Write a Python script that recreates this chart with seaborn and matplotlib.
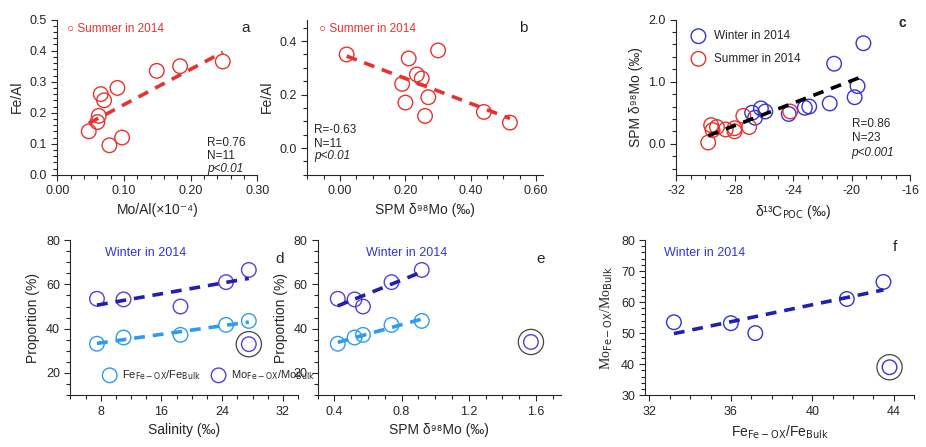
import numpy as np
import matplotlib
matplotlib.use("Agg")
import matplotlib.pyplot as plt
import seaborn as sns

# panel a / b: summer 2014
mo_al = [0.047, 0.060, 0.062, 0.065, 0.070, 0.078, 0.090, 0.097, 0.149, 0.184, 0.248]
fe_al_a = [0.14, 0.17, 0.19, 0.26, 0.24, 0.095, 0.28, 0.12, 0.335, 0.35, 0.365]
spm_b = [0.02, 0.19, 0.20, 0.21, 0.235, 0.25, 0.26, 0.27, 0.30, 0.44, 0.52]
fe_al_b = [0.35, 0.24, 0.17, 0.335, 0.275, 0.26, 0.12, 0.19, 0.365, 0.135, 0.095]

# panel c
c13_sum = [-29.8, -29.6, -29.5, -29.2, -28.6, -28.0, -28.0, -27.4, -27.0, -24.2]
mo_sum = [0.02, 0.30, 0.22, 0.27, 0.23, 0.20, 0.25, 0.45, 0.27, 0.52]
c13_win = [-26.8, -26.6, -26.2, -25.9, -24.3, -23.2, -22.9, -21.5, -21.2, -19.8, -19.6, -19.2]
mo_win = [0.50, 0.42, 0.57, 0.52, 0.48, 0.58, 0.60, 0.65, 1.29, 0.75, 0.93, 1.62]

# panels d-f: winter 2014
salinity = [7.5, 11.0, 18.5, 24.5, 27.5]
spm_win = [0.42, 0.52, 0.57, 0.74, 0.92]
fe_ox = [33.2, 36.0, 37.2, 41.7, 43.5]
mo_ox = [53.5, 53.2, 50.0, 61.0, 66.5]
outlier_sal, outlier_spm, outlier_fe = 27.5, 1.57, 43.8
outlier_mo_d, outlier_mo_e, outlier_mo_f = 33.0, 34.0, 39.0

sns.set_style("ticks")
plt.rcParams["font.family"] = ["Liberation Sans", "DejaVu Sans"]
plt.rcParams["font.size"] = 9

RED = "#e8322e"
BLUE = "#3434d8"
LBLUE = "#2d9cf0"
PURPLE = "#5a40d0"
DBLUE = "#2020b0"

fig = plt.figure(figsize=(9.26, 4.47), dpi=100)
ax_a = fig.add_axes([0.062, 0.609, 0.216, 0.347])
ax_b = fig.add_axes([0.332, 0.609, 0.254, 0.347])
ax_c = fig.add_axes([0.730, 0.609, 0.253, 0.347])
ax_d = fig.add_axes([0.076, 0.116, 0.246, 0.347])
ax_e = fig.add_axes([0.343, 0.116, 0.263, 0.347])
ax_f = fig.add_axes([0.697, 0.116, 0.290, 0.347])

circ = dict(facecolor="none", s=110, linewidth=1.0)
line = dict(linestyle=(0, (3, 2.2)), linewidth=2.6)
FEOX = "Fe$_{\\mathrm{Fe-OX}}$/Fe$_{\\mathrm{Bulk}}$"
MOOX = "Mo$_{\\mathrm{Fe-OX}}$/Mo$_{\\mathrm{Bulk}}$"


def scatter(ax, x, y, color, label=None):
    sns.scatterplot(x=x, y=y, ax=ax, edgecolor=color, label=label, **circ)


def trend(ax, x, y, color):
    sns.regplot(x=np.array(x), y=np.array(y), ax=ax, scatter=False, ci=None,
                color=color, truncate=True, line_kws=line)


def style(ax, xlim, ylim, xt, yt, fmtx, fmty):
    ax.set_xlim(*xlim)
    ax.set_ylim(*ylim)
    ax.set_xticks(xt)
    ax.set_yticks(yt)
    ax.set_xticklabels([fmtx.format(v) for v in xt])
    ax.set_yticklabels([fmty.format(v) for v in yt])
    ax.minorticks_on()
    ax.tick_params(which="both", direction="out", length=4, width=0.8)
    ax.tick_params(which="minor", length=3)
    sns.despine(ax=ax)


# a
scatter(ax_a, mo_al, fe_al_a, RED)
trend(ax_a, mo_al, fe_al_a, RED)
style(ax_a, (0, 0.3), (0, 0.5), [0, 0.1, 0.2, 0.3], [0, 0.1, 0.2, 0.3, 0.4, 0.5], "{:.2f}", "{:.1f}")
ax_a.set_xlabel("Mo/Al(×10⁻⁴)", fontsize=10)
ax_a.set_ylabel("Fe/Al", fontsize=10)
ax_a.text(0.05, 0.92, "○ Summer in 2014", color=RED, transform=ax_a.transAxes, fontsize=8.5)
ax_a.text(0.92, 0.92, "a", transform=ax_a.transAxes, fontsize=11)
ax_a.text(0.75, 0.08, "R=0.76\nN=11", transform=ax_a.transAxes, fontsize=8.5, va="bottom")
ax_a.text(0.75, 0.02, "p<0.01", transform=ax_a.transAxes, fontsize=8.5, style="italic")

# b
scatter(ax_b, spm_b, fe_al_b, RED)
trend(ax_b, spm_b, fe_al_b, RED)
style(ax_b, (-0.1, 0.62), (-0.1, 0.48), [0, 0.2, 0.4, 0.6], [0, 0.2, 0.4], "{:.2f}", "{:.1f}")
ax_b.set_xlabel("SPM δ⁹⁸Mo (‰)", fontsize=10)
ax_b.set_ylabel("Fe/Al", fontsize=10)
ax_b.text(0.05, 0.92, "○ Summer in 2014", color=RED, transform=ax_b.transAxes, fontsize=8.5)
ax_b.text(0.9, 0.92, "b", transform=ax_b.transAxes, fontsize=11)
ax_b.text(0.03, 0.16, "R=-0.63\nN=11", transform=ax_b.transAxes, fontsize=8.5, va="bottom")
ax_b.text(0.03, 0.1, "p<0.01", transform=ax_b.transAxes, fontsize=8.5, style="italic")

# c
scatter(ax_c, c13_win, mo_win, BLUE, "Winter in 2014")
scatter(ax_c, c13_sum, mo_sum, RED, "Summer in 2014")
trend(ax_c, c13_sum + c13_win, mo_sum + mo_win, "black")
style(ax_c, (-32, -16), (-0.5, 2.0), [-32, -28, -24, -20, -16], [0, 1, 2], "{:.0f}", "{:.1f}")
ax_c.set_xlabel("δ¹³C$_{\\mathrm{POC}}$ (‰)", fontsize=10)
ax_c.set_ylabel("SPM δ⁹⁸Mo (‰)", fontsize=10)
ax_c.legend(loc="upper left", frameon=False, fontsize=8.5, handletextpad=0.3, labelspacing=0.9)
ax_c.text(0.95, 0.95, "c", transform=ax_c.transAxes, fontsize=10, fontweight="bold")
ax_c.text(0.75, 0.2, "R=0.86\nN=23", transform=ax_c.transAxes, fontsize=8.5, va="bottom")
ax_c.text(0.75, 0.12, "p<0.001", transform=ax_c.transAxes, fontsize=8.5, style="italic")

# d
scatter(ax_d, salinity, fe_ox, LBLUE, FEOX)
scatter(ax_d, salinity, mo_ox, PURPLE, MOOX)
trend(ax_d, salinity, fe_ox, LBLUE)
trend(ax_d, salinity, mo_ox, DBLUE)
scatter(ax_d, [outlier_sal], [outlier_mo_d], PURPLE)
ax_d.scatter([outlier_sal], [outlier_mo_d], s=330, facecolor="none", edgecolor="#444444", linewidth=0.9)
style(ax_d, (4, 34), (10, 80), [8, 16, 24, 32], [20, 40, 60, 80], "{:.0f}", "{:.0f}")
ax_d.set_xlabel("Salinity (‰)", fontsize=10)
ax_d.set_ylabel("Proportion (%)", fontsize=10)
ax_d.legend(loc="lower left", ncol=2, frameon=False, fontsize=8, handletextpad=0.1,
            columnspacing=0.6, bbox_to_anchor=(0.08, 0.02))
ax_d.text(0.15, 0.9, "Winter in 2014", color=BLUE, transform=ax_d.transAxes, fontsize=9)
ax_d.text(0.9, 0.85, "d", transform=ax_d.transAxes, fontsize=11)

# e
scatter(ax_e, spm_win, fe_ox, LBLUE)
scatter(ax_e, spm_win, mo_ox, PURPLE)
trend(ax_e, spm_win, fe_ox, LBLUE)
trend(ax_e, spm_win, mo_ox, DBLUE)
scatter(ax_e, [outlier_spm], [outlier_mo_e], PURPLE)
ax_e.scatter([outlier_spm], [outlier_mo_e], s=330, facecolor="none", edgecolor="#444444", linewidth=0.9)
style(ax_e, (0.3, 1.75), (10, 80), [0.4, 0.8, 1.2, 1.6], [20, 40, 60, 80], "{:.1f}", "{:.0f}")
ax_e.set_xlabel("SPM δ⁹⁸Mo (‰)", fontsize=10)
ax_e.set_ylabel("Proportion (%)", fontsize=10)
ax_e.text(0.2, 0.9, "Winter in 2014", color=BLUE, transform=ax_e.transAxes, fontsize=9)
ax_e.text(0.9, 0.85, "e", transform=ax_e.transAxes, fontsize=11)

# f
scatter(ax_f, fe_ox, mo_ox, BLUE)
trend(ax_f, fe_ox, mo_ox, DBLUE)
scatter(ax_f, [outlier_fe], [outlier_mo_f], BLUE)
ax_f.scatter([outlier_fe], [outlier_mo_f], s=330, facecolor="none", edgecolor="#444444", linewidth=0.9)
style(ax_f, (31.8, 45), (30, 80), [32, 36, 40, 44], [30, 40, 50, 60, 70, 80], "{:.0f}", "{:.0f}")
ax_f.set_xlabel(FEOX, fontsize=10)
ax_f.set_ylabel(MOOX, fontsize=10, family="Liberation Serif")
ax_f.text(0.07, 0.9, "Winter in 2014", color=BLUE, transform=ax_f.transAxes, fontsize=9)
ax_f.text(0.92, 0.93, "f", transform=ax_f.transAxes, fontsize=11)

fig.savefig("out.png", dpi=100)
